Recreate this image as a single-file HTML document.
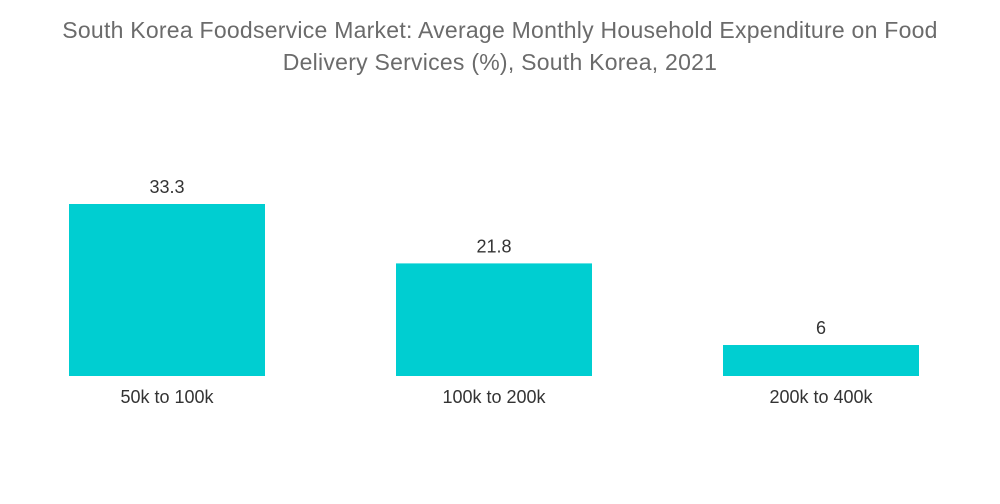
<!DOCTYPE html>
<html>
<head>
<meta charset="utf-8">
<style>
  html,body{margin:0;padding:0;background:#fff;}
  body{width:1000px;height:504px;overflow:hidden;font-family:"Liberation Sans",sans-serif;}
  .title{position:absolute;left:0;top:14px;width:1000px;text-align:center;color:#6b6b6b;font-size:23px;letter-spacing:0.25px;line-height:32px;}
</style>
</head>
<body>
<div class="title">South Korea Foodservice Market: Average Monthly Household Expenditure on Food<br>Delivery Services (%), South Korea, 2021</div>
<svg id="chart" width="1000" height="504" style="position:absolute;left:0;top:0"></svg>
<script>
const categories = ["50k to 100k", "100k to 200k", "200k to 400k"];
const values = [33.3, 21.8, 6];
const valueLabels = ["33.3", "21.8", "6"];

const svg = document.getElementById('chart');
const NS = 'http://www.w3.org/2000/svg';
const baseY = 376, pxPerUnit = 172 / 33.3;
const firstX = 69, step = 327, barW = 196;
function y(v){ return baseY - v * pxPerUnit; }
function x(i){ return firstX + i * step; }

categories.forEach((c, i) => {
  const r = document.createElementNS(NS, 'rect');
  r.setAttribute('x', x(i));
  r.setAttribute('y', y(values[i]));
  r.setAttribute('width', barW);
  r.setAttribute('height', baseY - y(values[i]));
  r.setAttribute('fill', '#00ced1');
  
  
  svg.appendChild(r);

  const t = document.createElementNS(NS, 'text');
  t.setAttribute('x', x(i) + barW / 2);
  t.setAttribute('y', y(values[i]) - 11);
  t.setAttribute('text-anchor', 'middle');
  t.setAttribute('font-size', '18');
  t.setAttribute('fill', '#333');
  t.setAttribute('font-family', 'Liberation Sans, sans-serif');
  t.textContent = valueLabels[i];
  
  
  svg.appendChild(t);

  const l = document.createElementNS(NS, 'text');
  l.setAttribute('x', x(i) + barW / 2);
  l.setAttribute('y', 403);
  l.setAttribute('text-anchor', 'middle');
  l.setAttribute('font-size', '18');
  l.setAttribute('fill', '#333');
  l.setAttribute('font-family', 'Liberation Sans, sans-serif');
  l.textContent = c;
  
  
  svg.appendChild(l);
});
</script>
</body>
</html>
